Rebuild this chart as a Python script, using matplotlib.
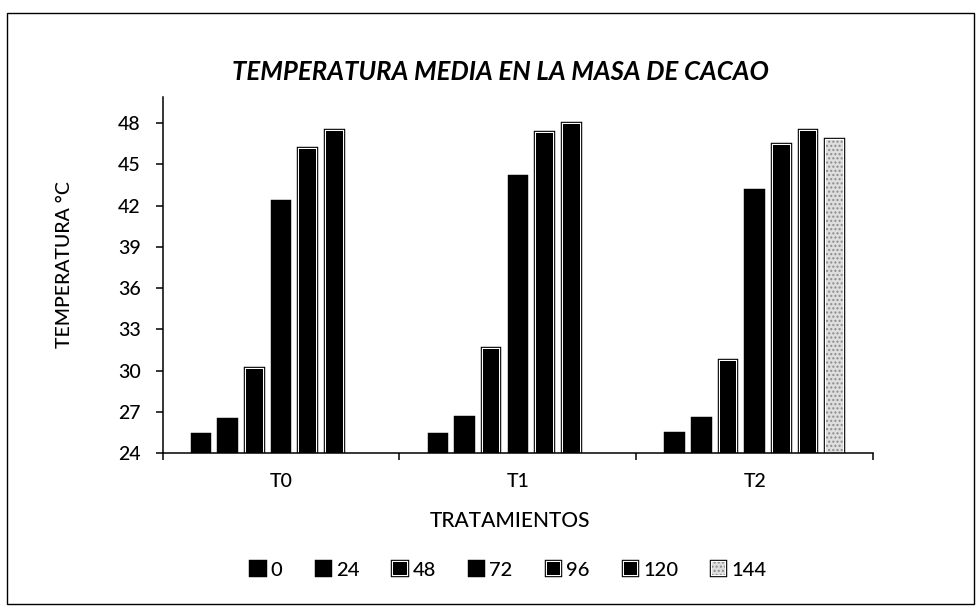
import numpy as np
import matplotlib.pyplot as plt
import matplotlib.patheffects as pe
from matplotlib.patches import Rectangle

plt.rcParams["font.family"] = ["Lato", "DejaVu Sans"]
plt.rcParams["font.weight"] = "medium"

# datos
tratamientos = ["T0", "T1", "T2"]
horas = ["0", "24", "48", "72", "96", "120", "144"]

temp_0 = [25.3, 25.3, 25.4]
temp_24 = [26.4, 26.6, 26.5]
temp_48 = [30.1, 31.6, 30.7]
temp_72 = [42.3, 44.1, 43.1]
temp_96 = [46.1, 47.3, 46.4]
temp_120 = [47.4, 47.9, 47.4]
temp_144 = [np.nan, np.nan, 46.8]

series = [temp_0, temp_24, temp_48, temp_72, temp_96, temp_120, temp_144]

# relleno y si lleva el borde blanco interior (estilo Excel)
rellenos = ["black", "black", "black", "black", "black", "black", "#dedede"]
con_anillo = [False, False, True, False, True, True, True]

fig = plt.figure(figsize=(9.77, 6.08), dpi=100)
ax = fig.add_axes([0.1665, 0.2544, 0.7271, 0.5861])

x = np.arange(len(tratamientos))
paso = 0.1127
ancho = 0.070

for i, (valores, color, anillo) in enumerate(zip(series, rellenos, con_anillo)):
    if anillo:
        efectos = [pe.Stroke(linewidth=3.2, foreground="black"),
                   pe.Stroke(linewidth=1.6, foreground="white"),
                   pe.Normal()]
    else:
        efectos = [pe.Stroke(linewidth=3.2, foreground="black"), pe.Normal()]
    barras = ax.bar(x + (i - 3) * paso, valores, ancho, color=color,
                    linewidth=0, edgecolor="#8c8c8c",
                    hatch="...." if i == 6 else None, label=horas[i])
    for b in barras:
        b.set_path_effects(efectos)

ax.set_ylim(24, 49.9)
ax.set_yticks(np.arange(24, 49, 3))
ax.set_xlim(-0.5, 2.5)

# marcas en los limites de cada categoria, etiquetas al centro
ax.set_xticks([-0.5, 0.5, 1.5, 2.5])
ax.set_xticklabels([])
ax.set_xticks(x, minor=True)
ax.set_xticklabels(tratamientos, minor=True)
ax.tick_params(axis="x", which="major", direction="out", length=5, width=1.1)
ax.tick_params(axis="x", which="minor", length=0, pad=14, labelsize=14)
ax.tick_params(axis="y", direction="out", length=5, width=1.1, pad=11, labelsize=14)

for lado in ["top", "right"]:
    ax.spines[lado].set_visible(False)
for lado in ["left", "bottom"]:
    ax.spines[lado].set_linewidth(1.1)

fig.text(500 / 977, 1 - 72 / 608, "TEMPERATURA MEDIA EN LA MASA DE CACAO",
         ha="center", va="center", fontsize=18.5, fontweight="bold", fontstyle="italic")
fig.text(510 / 977, 1 - 521 / 608, "TRATAMIENTOS", ha="center", va="center", fontsize=15)
fig.text(65 / 977, 1 - 265 / 608, "TEMPERATURA °C", ha="center", va="center",
         rotation=90, fontsize=14)

fig.legend(loc="center", bbox_to_anchor=(509 / 977, 1 - 570 / 608), ncol=7,
           frameon=False, fontsize=14.5, handlelength=0.65, handleheight=0.65,
           handletextpad=0.3, columnspacing=1.7)

# marco exterior del grafico
fig.patches.append(Rectangle((0.007, 0.006), 0.99, 0.973, transform=fig.transFigure,
                             fill=False, edgecolor="black", linewidth=1.0))

fig.savefig("out.png", dpi=100)
